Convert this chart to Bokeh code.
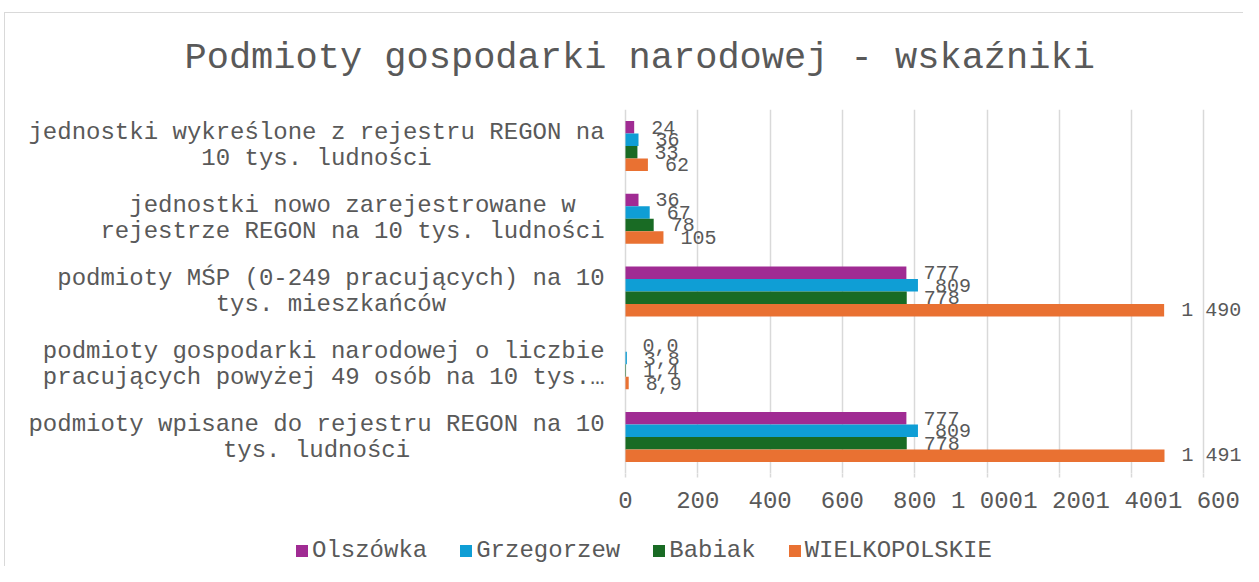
from bokeh.plotting import figure
from bokeh.models import (ColumnDataSource, LabelSet, FixedTicker, Legend,
                          LegendItem, Range1d)
from bokeh.layouts import column
from bokeh.core.properties import value
from bokeh.embed import file_html
from bokeh.resources import INLINE

# ---------------- data ----------------
categories = [
    ["jednostki wykreślone z rejestru REGON na", "10 tys. ludności"],
    ["jednostki nowo zarejestrowane w", "rejestrze REGON na 10 tys. ludności"],
    ["podmioty MŚP (0-249 pracujących) na 10", "tys. mieszkańców"],
    ["podmioty gospodarki narodowej o liczbie", "pracujących powyżej 49 osób na 10 tys.…"],
    ["podmioty wpisane do rejestru REGON na 10", "tys. ludności"],
]
series_names = ["Olszówka", "Grzegorzew", "Babiak", "WIELKOPOLSKIE"]
olszowka = [24, 36, 777, 0.0, 777]
grzegorzew = [36, 67, 809, 3.8, 809]
babiak = [33, 78, 778, 1.4, 778]
wielkopolskie = [62, 105, 1490, 8.9, 1491]
decimals = [0, 0, 0, 1, 0]
colors = ["#A02B93", "#0F9ED5", "#196B24", "#E97132"]
x_ticks = [0, 200, 400, 600, 800, 1000, 1200, 1400, 1600]
title_text = "Podmioty gospodarki narodowej - wskaźniki"

series_values = [olszowka, grzegorzew, babiak, wielkopolskie]

FONT = "Liberation Mono"
TXT = "#595959"
GRID = "#d9d9d9"


def fmt(v, d):
    s = f"{v:,.{d}f}"
    return s.replace(",", " ").replace(".", ",")


n = len(categories)
centers = [n - 0.5 - i for i in range(n)]
bar_h = 0.1716
offsets = [1.5 * bar_h, 0.5 * bar_h, -0.5 * bar_h, -1.5 * bar_h]

W = 1243
H1, H2 = 520, 46
zero_px, top, bottom = 625, 109, 47
px_per_unit = 0.3615
x_start = -zero_px / px_per_unit
x_end = (W - zero_px) / px_per_unit

p = figure(width=W, height=H1,
           x_range=Range1d(x_start, x_end), y_range=Range1d(0, n),
           output_backend="svg", toolbar_location=None,
           min_border_left=0, min_border_right=0,
           min_border_top=top, min_border_bottom=bottom,
           title=title_text)
p.outline_line_color = None
p.background_fill_color = None
p.border_fill_color = None

p.title.text_font = FONT
p.title.text_font_size = "37px"
p.title.text_font_style = "normal"
p.title.text_color = TXT
p.title.align = "left"
p.title.offset = 184
p.title.standoff = 62

# x axis / grid
p.yaxis.visible = False
p.ygrid.visible = False
p.xaxis.ticker = FixedTicker(ticks=x_ticks)
p.xgrid.ticker = FixedTicker(ticks=x_ticks)
p.xgrid.grid_line_color = GRID
p.xgrid.grid_line_width = 1.5
p.xaxis.axis_line_color = None
p.xaxis.major_tick_in = 0
p.xaxis.major_tick_out = 4
p.xaxis.major_tick_line_color = GRID
p.xaxis.major_tick_line_width = 1.5
p.xaxis.minor_tick_line_color = None
p.xaxis.major_label_text_font = FONT
p.xaxis.major_label_text_font_size = "24px"
p.xaxis.major_label_text_color = TXT
p.xaxis.major_label_standoff = 10
p.xaxis.major_label_overrides = {t: fmt(t, 0) for t in x_ticks}

# category labels: two centred lines per category, block right-aligned
cw = 0.6 * 24
lx, ly, lt, lyo, lxo = [], [], [], [], []
for c, lines in zip(centers, categories):
    maxlen = max(len(s) for s in lines)
    for k, s in enumerate(lines):
        lx.append(0)
        ly.append(c)
        lt.append(s)
        lyo.append(13 - 26 * k)
        lxo.append(-21 - maxlen * cw / 2)
cat_src = ColumnDataSource(dict(x=lx, y=ly, t=lt, yo=lyo, xo=lxo))
p.add_layout(LabelSet(x="x", y="y", text="t", source=cat_src,
                      x_offset="xo", y_offset="yo", text_align="center",
                      text_baseline="middle", text_font=value(FONT),
                      text_font_size=value("24px"), text_color=TXT))

# legend figure (below the chart)
q = figure(width=W, height=H2, x_range=Range1d(0, 1), y_range=Range1d(0, 1),
           output_backend="svg", toolbar_location=None,
           min_border_left=0, min_border_right=0,
           min_border_top=0, min_border_bottom=0)
q.axis.visible = False
q.grid.visible = False
q.outline_line_color = None
q.background_fill_color = None
q.border_fill_color = None

# bars + data labels
legend_items = []
for j, (name, vals, col) in enumerate(zip(series_names, series_values, colors)):
    ys = [c + offsets[j] for c in centers]
    src = ColumnDataSource(dict(
        y=ys, v=vals, lab=[fmt(v, d) for v, d in zip(vals, decimals)]))
    p.hbar(y="y", right="v", left=0, height=bar_h, source=src,
           fill_color=col, line_color=None)
    p.add_layout(LabelSet(x="v", y="y", text="lab", source=src,
                          x_offset=17, text_align="left",
                          text_baseline="middle", text_font=value(FONT),
                          text_font_size=value("20px"), text_color=TXT))
    proxy = q.hbar(y=[-5], right=[0], left=0, height=0.1,
                   fill_color=col, line_color=None)
    legend_items.append(LegendItem(label=name, renderers=[proxy]))

legend = Legend(items=legend_items, orientation="horizontal",
                location=(294, 2), label_text_font=FONT,
                label_text_font_size="24px", label_text_color=TXT,
                glyph_width=15, glyph_height=15, label_standoff=3,
                spacing=31, padding=0, margin=0,
                border_line_color=None, background_fill_alpha=0)
q.add_layout(legend)

# light chart-area border (left and top edges, as in the reference)
border_css = ("linear-gradient(#d9d9d9,#d9d9d9) 4px 12px / 1px 100% no-repeat, "
              "linear-gradient(#d9d9d9,#d9d9d9) 4px 12px / 100% 1px no-repeat, "
              "white")
layout = column(p, q, spacing=0, styles={"background": border_css})
open("out.html", "w").write(file_html(layout, INLINE))
